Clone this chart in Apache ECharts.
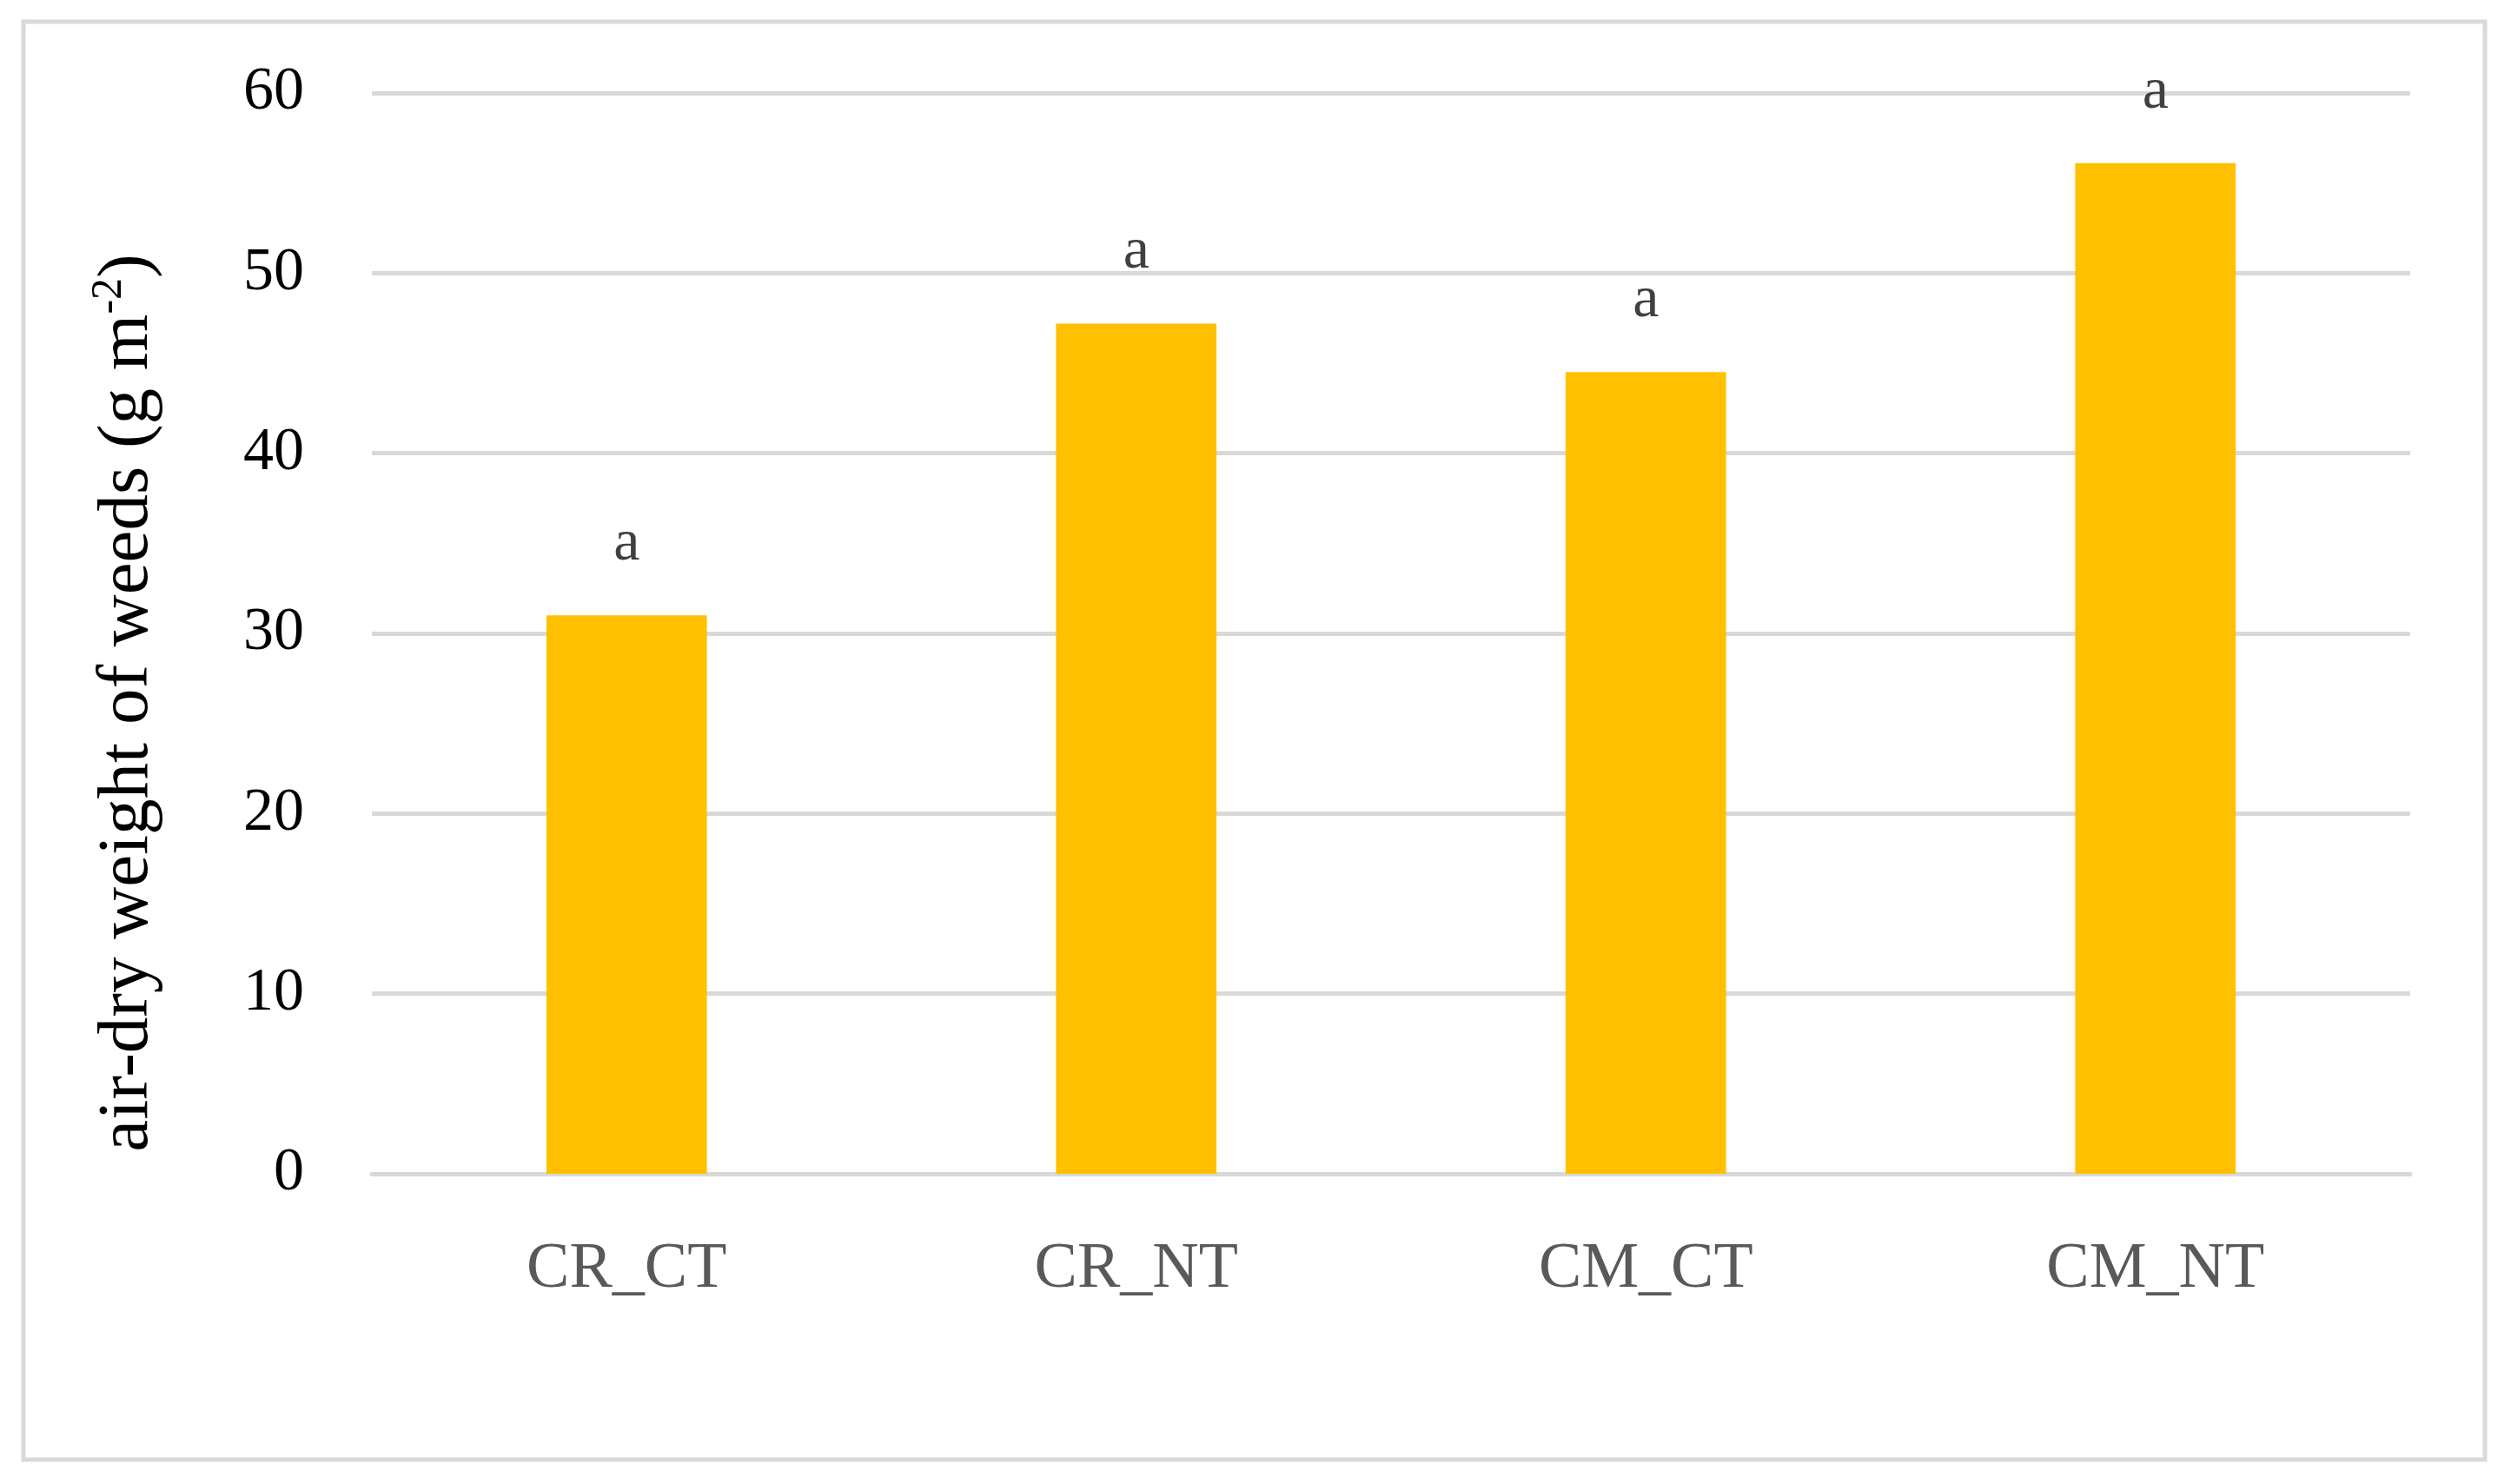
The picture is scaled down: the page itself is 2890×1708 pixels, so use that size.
<!DOCTYPE html>
<html lang="en">
<head>
    <meta charset="UTF-8">
    <title>air-dry weight of weeds</title>
    <script src="https://cdn.jsdelivr.net/npm/echarts@6/dist/echarts.min.js"></script>
    <style>
        html, body { margin: 0; padding: 0; background: #fff; }
        #main { width: 2890px; height: 1708px; }
    </style>
</head>
<body>
<div id="main"></div>
<script type="text/javascript">
    // data
    var categories = ['CR_CT', 'CR_NT', 'CM_CT', 'CM_NT'];
    var weights = [31.0, 47.2, 44.5, 56.1];
    var letters = ['a', 'a', 'a', 'a'];
    var yTicks = [0, 10, 20, 30, 40, 50, 60];

    var serif = '"Liberation Serif", "DejaVu Serif", serif';
    var myChart = echarts.init(document.getElementById('main'));

    var option = {
        backgroundColor: '#ffffff',
        animation: false,
        graphic: [
            {
                type: 'rect',
                silent: true,
                shape: { x: 27, y: 25, width: 2833, height: 1655 },
                style: { fill: 'none', stroke: '#d9d9d9', lineWidth: 5 }
            }
        ],
        grid: {
            left: 428,
            right: 116,
            top: 107,
            bottom: 357
        },
        xAxis: {
            type: 'category',
            data: categories,
            axisLine: { show: true, lineStyle: { color: '#d9d9d9', width: 5 } },
            axisTick: { show: false },
            axisLabel: {
                color: '#595959',
                fontFamily: serif,
                fontSize: 74,
                margin: 74
            }
        },
        yAxis: {
            type: 'value',
            min: yTicks[0],
            max: yTicks[yTicks.length - 1],
            interval: yTicks[1] - yTicks[0],
            name: '{n|air-dry weight of weeds (g m}{s|-2}{n|)}',
            nameLocation: 'middle',
            nameGap: 235,
            nameRotate: 90,
            nameTextStyle: {
                padding: [0, 160, 0, 0],
                rich: {
                    n: { fontFamily: serif, fontSize: 83, color: '#000000' },
                    s: { fontFamily: serif, fontSize: 50, color: '#000000', padding: [0, 0, 42, 0] }
                }
            },
            axisLine: { show: false },
            axisTick: { show: false },
            axisLabel: {
                color: '#000000',
                fontFamily: serif,
                fontSize: 70,
                margin: 78
            },
            splitLine: { lineStyle: { color: '#d9d9d9', width: 5 } }
        },
        series: [
            {
                type: 'bar',
                data: weights,
                barWidth: '31.5%',
                itemStyle: { color: '#ffc000' },
                label: {
                    show: true,
                    position: 'top',
                    distance: 48,
                    color: '#404040',
                    fontFamily: serif,
                    fontSize: 68,
                    formatter: function (p) {
                        return letters[p.dataIndex];
                    }
                }
            }
        ]
    };

    myChart.setOption(option);
</script>
</body>
</html>
